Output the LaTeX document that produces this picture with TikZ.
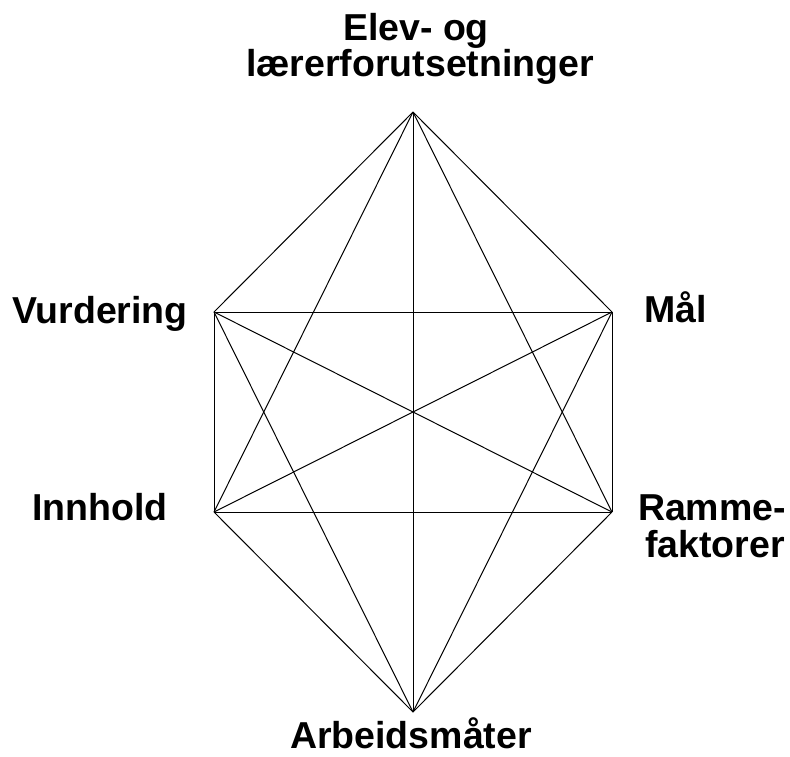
\documentclass[tikz,border=0pt]{standalone}
\usepackage{fontspec}
\setmainfont{Liberation Sans}
\begin{document}
\begin{tikzpicture}[x=1pt,y=-1pt,
  edge/.style={draw=black,line width=1pt},
  lbl/.style={font=\fontsize{37.5}{40}\selectfont\bfseries,inner sep=0pt,anchor=base}]
\useasboundingbox (0,0) rectangle (790,756);
\coordinate (T) at (413,112);
\coordinate (UL) at (214,312);
\coordinate (UR) at (612,312);
\coordinate (LL) at (214,512);
\coordinate (LR) at (612,512);
\coordinate (B) at (413,712);
\foreach \a/\b in {T/UL,T/UR,T/LL,T/LR,T/B,UL/UR,UL/LL,UL/LR,UL/B,UR/LL,UR/LR,UR/B,LL/LR,LL/B,LR/B}
  \draw[edge] (\a) -- (\b);
\node[lbl] (t1) at (416,40) {Elev- og};
\node[lbl] (t2) at (420,76) {lærerforutsetninger};
\node[lbl,anchor=base east] (vu) at (188,323) {Vurdering};
\node[lbl,anchor=base west] (ma) at (644,322) {Mål};
\node[lbl] (in) at (100,520) {Innhold};
\node[lbl] (r1) at (712,520) {Ramme-};
\node[lbl] (r2) at (715,557) {faktorer};
\node[lbl] (ar) at (411,748) {Arbeidsmåter};
\end{tikzpicture}
\end{document}
